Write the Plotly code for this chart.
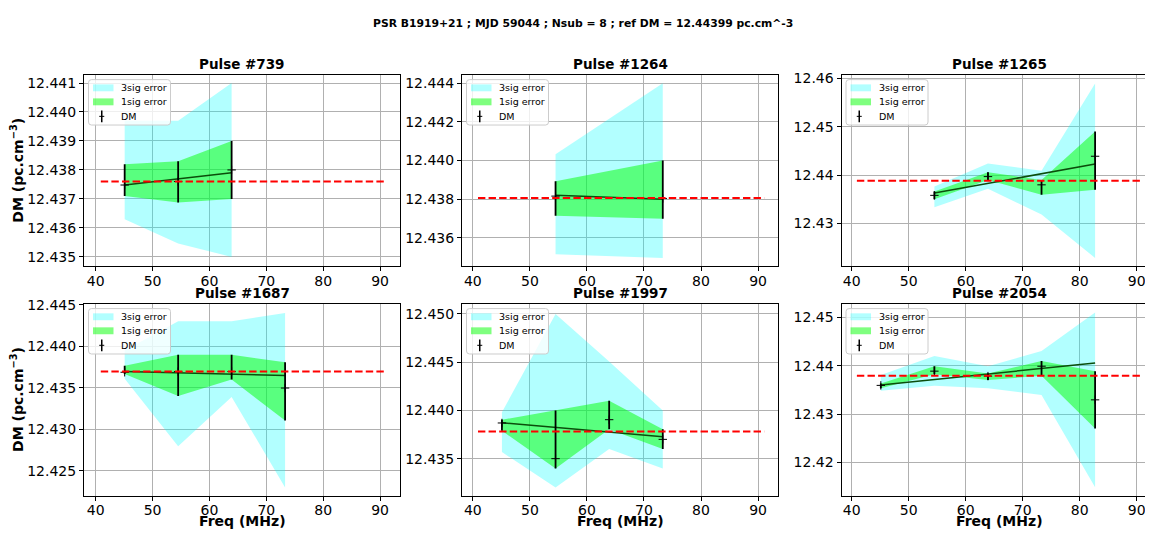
import plotly.graph_objects as go

# ---------------- data ----------------
SUPTITLE = "PSR B1919+21 ; MJD 59044 ; Nsub = 8 ; ref DM = 12.44399 pc.cm^-3"
REF_X = [40.9, 91.1]
X_TICKS = [40, 50, 60, 70, 80, 90]
LEGEND_LABELS = ["3sig error", "1sig error", "DM"]

titles = ["Pulse #739", "Pulse #1264", "Pulse #1265",
          "Pulse #1687", "Pulse #1997", "Pulse #2054"]

freq_739 = [45.1, 54.5, 63.9]
dm_739 = [12.43748, 12.4376, 12.4380]
sig1_hi_739 = [12.4382, 12.4383, 12.4390]
sig1_lo_739 = [12.4371, 12.43688, 12.4370]
sig3_hi_739 = [12.4397, 12.4397, 12.4410]
sig3_lo_739 = [12.4363, 12.43546, 12.4350]
fit_739 = [12.43748, 12.4379]
ref_739 = 12.4376

freq_1264 = [54.5, 73.3]
dm_1264 = [12.43816, 12.43804]
sig1_hi_1264 = [12.43893, 12.4400]
sig1_lo_1264 = [12.43714, 12.43699]
sig3_hi_1264 = [12.44032, 12.4440]
sig3_lo_1264 = [12.43515, 12.43496]
fit_1264 = [12.4382, 12.4380]
ref_1264 = 12.43806

freq_1265 = [54.5, 63.9, 73.3, 82.7]
dm_1265 = [12.4358, 12.43968, 12.43798, 12.4439]
sig1_hi_1265 = [12.4366, 12.44057, 12.4390, 12.44902]
sig1_lo_1265 = [12.4350, 12.4390, 12.43593, 12.43696]
sig3_hi_1265 = [12.43764, 12.44241, 12.44091, 12.45898]
sig3_lo_1265 = [12.43334, 12.43716, 12.43184, 12.42284]
fit_1265 = [12.43627, 12.44227]
ref_1265 = 12.4388

freq_1687 = [45.1, 54.5, 63.9, 73.3]
dm_1687 = [12.43688, 12.43696, 12.43696, 12.43498]
sig1_hi_1687 = [12.43767, 12.43898, 12.43898, 12.43807]
sig1_lo_1687 = [12.43668, 12.43403, 12.43601, 12.43106]
sig3_hi_1687 = [12.4395, 12.44302, 12.44302, 12.44401]
sig3_lo_1687 = [12.43609, 12.42797, 12.43391, 12.42302]
fit_1687 = [12.43696, 12.43649]
ref_1687 = 12.43696

freq_1997 = [45.1, 54.5, 63.9, 73.3]
dm_1997 = [12.4387, 12.4350, 12.43904, 12.4370]
sig1_hi_1997 = [12.43904, 12.4400, 12.44101, 12.43806]
sig1_lo_1997 = [12.43789, 12.43398, 12.43806, 12.43599]
sig3_hi_1997 = [12.43982, 12.4500, 12.44508, 12.43999]
sig3_lo_1997 = [12.43568, 12.43202, 12.43599, 12.43398]
fit_1997 = [12.43873, 12.43727]
ref_1997 = 12.43782

freq_2054 = [45.1, 54.5, 63.9, 73.3, 82.7]
dm_2054 = [12.43595, 12.43889, 12.43786, 12.43991, 12.43296]
sig1_hi_2054 = [12.43636, 12.43991, 12.43841, 12.4410, 12.43889]
sig1_lo_2054 = [12.43534, 12.43827, 12.43705, 12.43793, 12.42702]
sig3_hi_2054 = [12.43807, 12.44202, 12.43991, 12.44305, 12.45102]
sig3_lo_2054 = [12.43486, 12.43589, 12.43534, 12.43398, 12.41489]
fit_2054 = [12.43602, 12.44059]
ref_2054 = 12.43793

# y-axis ranges / tick settings per panel
y_ranges = [[12.43468, 12.44127], [12.43454, 12.44441], [12.42114, 12.46068],
            [12.42203, 12.44508], [12.43117, 12.45102], [12.41318, 12.45273]]
y_dticks = [0.001, 0.002, 0.01, 0.005, 0.005, 0.01]
y_formats = [".3f", ".3f", ".2f", ".3f", ".3f", ".2f"]

panels = [
    (freq_739, dm_739, sig1_hi_739, sig1_lo_739, sig3_hi_739, sig3_lo_739, fit_739, ref_739),
    (freq_1264, dm_1264, sig1_hi_1264, sig1_lo_1264, sig3_hi_1264, sig3_lo_1264, fit_1264, ref_1264),
    (freq_1265, dm_1265, sig1_hi_1265, sig1_lo_1265, sig3_hi_1265, sig3_lo_1265, fit_1265, ref_1265),
    (freq_1687, dm_1687, sig1_hi_1687, sig1_lo_1687, sig3_hi_1687, sig3_lo_1687, fit_1687, ref_1687),
    (freq_1997, dm_1997, sig1_hi_1997, sig1_lo_1997, sig3_hi_1997, sig3_lo_1997, fit_1997, ref_1997),
    (freq_2054, dm_2054, sig1_hi_2054, sig1_lo_2054, sig3_hi_2054, sig3_lo_2054, fit_2054, ref_2054),
]

# ---------------- styles / geometry (page pixels) ----------------
W, H = 1153, 533
OX, OY = 8, 8          # page body margin offset of the plot div
FONT = "DejaVu Sans"
C3 = "rgba(0,255,255,0.3)"
C1 = "rgba(0,255,0,0.5)"
col_px = [(84, 400), (462, 778), (841.5, 1153)]
row_px = [(69, 262.5), (301, 495)]
x_ranges = [[37.95, 93.5], [38.1, 93.5], [38.2, 92.86]]


def X(px):
    return (px - OX) / W


def Y(py):
    return 1 - (py - OY) / H


def rounded_rect(x0, y0, x1, y1, r=3):
    # path in paper coords built from page pixel box
    pts = (f"M {X(x0 + r)},{Y(y0)} L {X(x1 - r)},{Y(y0)} "
           f"Q {X(x1)},{Y(y0)} {X(x1)},{Y(y0 + r)} L {X(x1)},{Y(y1 - r)} "
           f"Q {X(x1)},{Y(y1)} {X(x1 - r)},{Y(y1)} L {X(x0 + r)},{Y(y1)} "
           f"Q {X(x0)},{Y(y1)} {X(x0)},{Y(y1 - r)} L {X(x0)},{Y(y0 + r)} "
           f"Q {X(x0)},{Y(y0)} {X(x0 + r)},{Y(y0)} Z")
    return pts


fig = go.Figure()
layout = dict(
    width=W, height=H,
    margin=dict(l=0, r=0, t=0, b=0),
    paper_bgcolor="white", plot_bgcolor="white",
    font=dict(family=FONT, color="black"),
    showlegend=False,
    annotations=[], shapes=[],
)

for i, (fx, dm, s1h, s1l, s3h, s3l, fit, ref) in enumerate(panels):
    r, c = divmod(i, 3)
    n = i + 1
    xa = "x" if n == 1 else f"x{n}"
    ya = "y" if n == 1 else f"y{n}"

    # 3 sigma band
    fig.add_trace(go.Scatter(
        x=fx + fx[::-1], y=s3h + s3l[::-1], fill="toself",
        fillcolor=C3, line=dict(width=0), mode="lines",
        name="3sig error", xaxis=xa, yaxis=ya, hoverinfo="skip"))
    # 1 sigma band
    fig.add_trace(go.Scatter(
        x=fx + fx[::-1], y=s1h + s1l[::-1], fill="toself",
        fillcolor=C1, line=dict(width=0), mode="lines",
        name="1sig error", xaxis=xa, yaxis=ya, hoverinfo="skip"))
    # linear fit
    fig.add_trace(go.Scatter(
        x=[fx[0], fx[-1]], y=fit, mode="lines", name="fit",
        line=dict(color="#0b4d0b", width=1.5), xaxis=xa, yaxis=ya))
    # DM points with error bars
    fig.add_trace(go.Scatter(
        x=fx, y=dm, mode="markers", name="DM",
        marker=dict(symbol="cross-thin", size=6, color="black",
                    line=dict(width=1, color="black")),
        error_y=dict(type="data", symmetric=False,
                     array=[h - d for h, d in zip(s1h, dm)],
                     arrayminus=[d - l for d, l in zip(dm, s1l)],
                     color="black", thickness=1.8, width=0),
        xaxis=xa, yaxis=ya))
    # reference DM
    fig.add_trace(go.Scatter(
        x=REF_X, y=[ref, ref], mode="lines", name="ref DM",
        line=dict(color="red", width=2, dash="7.4px,3.2px"),
        xaxis=xa, yaxis=ya))

    x0, x1 = col_px[c]
    y0, y1 = row_px[r]
    axis_common = dict(
        showgrid=True, gridcolor="#b0b0b0", gridwidth=1,
        showline=True, linecolor="black", linewidth=1,
        ticks="outside", ticklen=4, tickwidth=1, tickcolor="black",
        tickfont=dict(family=FONT, size=14, color="black"),
        zeroline=False,
    )
    layout["xaxis" if n == 1 else f"xaxis{n}"] = dict(
        axis_common, domain=[X(x0), X(x1)], range=x_ranges[c],
        tickvals=X_TICKS, mirror=True, anchor=ya, ticklabelstandoff=-2)
    layout["yaxis" if n == 1 else f"yaxis{n}"] = dict(
        axis_common, domain=[Y(y1), Y(y0)], range=y_ranges[i],
        dtick=y_dticks[i], tick0=12.4, tickformat=y_formats[i],
        mirror=(c != 2), anchor=xa)

    # ---- legend box (matplotlib style, upper left) ----
    bx0, by0 = x0 + 4.5, y0 + 4.5
    bx1, by1 = bx0 + 82, by0 + 46
    layout["shapes"].append(dict(
        type="path", path=rounded_rect(bx0, by0, bx1, by1), xref="paper", yref="paper",
        fillcolor="rgba(255,255,255,0.8)", line=dict(color="#cccccc", width=1),
        layer="above"))
    rows_y = [by0 + 8.3, by0 + 22.5, by0 + 37.2]
    sx0, sx1 = bx0 + 4.5, bx0 + 25
    for k, (lab, ry) in enumerate(zip(LEGEND_LABELS, rows_y)):
        if k < 2:
            layout["shapes"].append(dict(
                type="rect", xref="paper", yref="paper",
                x0=X(sx0), x1=X(sx1), y0=Y(ry + 3.5), y1=Y(ry - 3.5),
                fillcolor=[C3, C1][k], line=dict(width=0), layer="above"))
        else:
            cxp = (sx0 + sx1) / 2 - 1.5
            layout["shapes"].append(dict(
                type="line", xref="paper", yref="paper",
                x0=X(cxp), x1=X(cxp), y0=Y(ry + 6), y1=Y(ry - 6),
                line=dict(color="black", width=1.5), layer="above"))
            layout["shapes"].append(dict(
                type="line", xref="paper", yref="paper",
                x0=X(cxp - 2.5), x1=X(cxp + 2.5), y0=Y(ry), y1=Y(ry),
                line=dict(color="black", width=1), layer="above"))
        layout["annotations"].append(dict(
            text=lab, x=X(bx0 + 30.5), y=Y(ry), xref="paper", yref="paper",
            showarrow=False, xanchor="left", yanchor="middle",
            font=dict(family=FONT, size=9.5, color="black")))

    xc = (x0 + x1) / 2 if c < 2 else (841.5 + 1157) / 2
    # panel title
    layout["annotations"].append(dict(
        text=titles[i], x=X(xc), y=Y(y0 - 11), xref="paper", yref="paper",
        showarrow=False, xanchor="center", yanchor="middle",
        font=dict(family=FONT, size=13.5, weight="bold", color="black")))

    if c == 0:
        layout["annotations"].append(dict(
            text="DM (pc.cm<sup>−3</sup>)", x=X(17), y=Y((y0 + y1) / 2),
            xref="paper", yref="paper", showarrow=False, textangle=-90,
            xanchor="center", yanchor="middle",
            font=dict(family=FONT, size=14, weight="bold", color="black")))
    if r == 1:
        layout["annotations"].append(dict(
            text="Freq (MHz)", x=X(xc), y=Y(521),
            xref="paper", yref="paper", showarrow=False,
            xanchor="center", yanchor="middle",
            font=dict(family=FONT, size=14, weight="bold", color="black")))

layout["annotations"].append(dict(
    text=SUPTITLE, x=X(582.5), y=Y(17), xref="paper", yref="paper",
    showarrow=False, xanchor="center", yanchor="middle",
    font=dict(family=FONT, size=10.8, weight="bold", color="black")))

fig.update_layout(**layout)
fig.write_html("out.html")
